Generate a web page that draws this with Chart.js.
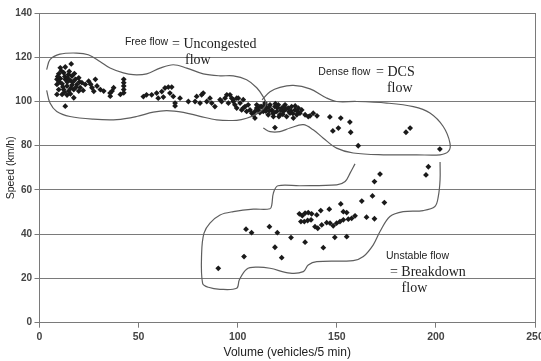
<!DOCTYPE html>
<html>
<head>
<meta charset="utf-8">
<script src="https://cdn.jsdelivr.net/npm/chart.js@4/dist/chart.umd.min.js"></script>
<style>
  html, body { margin: 0; padding: 0; background: #fff; }
  #box { width: 541px; height: 361px; }
</style>
</head>
<body>
<div id="box"><canvas id="speedChart"></canvas></div>
<script>
// axis ticks
const volumeTicks = [0, 50, 100, 150, 200, 250];
const speedTicks = [0, 20, 40, 60, 80, 100, 120, 140];

const freeFlowPoints = [
  [16.0, 117.0], [10.5, 115.2], [13.0, 115.6], [9.7, 112.5], [12.2, 113.0], [14.7, 112.2],
  [16.4, 111.5], [8.8, 110.0], [10.5, 110.4], [13.0, 110.0], [15.5, 109.5], [18.1, 110.0],
  [19.8, 110.7], [8.8, 107.7], [11.4, 108.0], [13.9, 107.0], [16.4, 107.4], [18.9, 107.7],
  [21.4, 108.5], [23.1, 107.7], [24.8, 109.2], [28.2, 110.0], [26.5, 106.2], [29.0, 107.0],
  [30.7, 105.4], [32.4, 104.7], [9.7, 105.4], [12.2, 105.4], [14.7, 104.7], [17.3, 105.4],
  [19.8, 104.7], [8.8, 103.2], [11.4, 103.2], [13.9, 102.9], [17.3, 101.7], [13.0, 97.9],
  [36.6, 104.7], [37.4, 106.2], [35.7, 102.4], [42.5, 110.0], [42.5, 108.5], [42.5, 107.0],
  [42.5, 105.4], [42.5, 103.9], [40.8, 103.2], [35.6, 103.8], [14.0, 108.8], [11.8, 106.6],
  [15.8, 106.0], [20.5, 106.3], [22.0, 105.0], [10.0, 108.9], [12.8, 111.3],
  [11.0, 113.8], [15.0, 113.6], [17.6, 112.6], [9.2, 111.3], [14.2, 110.6], [16.8, 108.8],
  [12.6, 104.2], [15.6, 103.4], [18.4, 106.4], [20.2, 108.9], [25.8, 107.8], [27.4, 104.6],
  [52.4, 102.2], [54.0, 103.0], [56.6, 103.0], [59.1, 103.8], [61.7, 104.5], [63.3, 106.1],
  [65.0, 106.5], [66.7, 106.5], [65.8, 103.8], [62.5, 102.0], [59.9, 101.5], [67.5, 102.3],
  [68.4, 99.3], [68.4, 98.0], [70.9, 101.5], [75.1, 100.0], [78.5, 100.0], [79.3, 102.3],
  [81.8, 103.0], [82.6, 103.8], [81.0, 99.3], [84.4, 100.0], [86.0, 101.5], [86.9, 99.3],
  [88.5, 97.7], [91.9, 100.0], [93.6, 101.5], [94.5, 103.0], [96.1, 103.0], [97.0, 101.5],
  [97.8, 100.0], [98.6, 98.5], [99.5, 97.0], [100.3, 101.5], [101.2, 99.3], [102.0, 96.2],
  [103.7, 97.7], [104.5, 95.5], [106.2, 96.2], [107.1, 94.7], [108.7, 95.5], [109.6, 97.0],
  [111.3, 97.7], [113.8, 98.5], [91.1, 100.8], [95.3, 99.3], [97.8, 100.8], [99.5, 101.5],
  [102.8, 100.8], [102.8, 97.0], [105.3, 98.5], [107.9, 94.0], [108.7, 92.5]
];

const denseFlowPoints = [
  [109.6, 98.5], [110.4, 96.2], [112.1, 97.7], [112.9, 95.5], [113.8, 99.3], [114.6, 97.0],
  [115.4, 94.0], [116.3, 98.5], [117.2, 96.2], [118.0, 93.2], [118.8, 97.7], [119.7, 95.5],
  [120.5, 98.5], [121.3, 94.0], [122.2, 97.0], [123.0, 95.5], [123.9, 98.5], [124.7, 93.2],
  [125.5, 97.0], [126.4, 94.7], [127.2, 97.7], [128.1, 92.5], [128.9, 96.2], [129.8, 94.0],
  [130.6, 97.0], [131.4, 94.7], [132.3, 96.2], [134.0, 94.0], [135.6, 93.2], [116.0, 95.8],
  [119.0, 99.0], [121.8, 96.0], [124.2, 96.4], [126.8, 95.8], [129.0, 98.0], [113.5, 96.5],
  [111.2, 95.0], [117.8, 94.6], [120.8, 93.2], [114.2, 95.6], [118.4, 95.0], [122.8, 94.2],
  [125.9, 95.4], [127.8, 94.6], [130.0, 95.6], [115.8, 97.6], [120.2, 97.2], [123.4, 97.8],
  [118.8, 88.2], [136.5, 93.5], [138.1, 94.7], [140.0, 93.5], [146.5, 93.0], [152.0, 92.5],
  [156.6, 90.7], [148.0, 86.7], [150.8, 88.0], [157.0, 86.1], [160.8, 80.0], [184.9, 86.1],
  [187.0, 88.0], [202.0, 78.5]
];

const unstableFlowPoints = [
  [90.2, 24.6], [103.2, 29.9], [104.2, 42.3], [107.0, 40.7], [116.0, 43.4], [120.0, 40.7],
  [118.8, 34.1], [122.2, 29.4], [126.9, 38.5], [134.0, 36.4], [143.2, 33.9], [149.0, 38.6],
  [155.0, 38.9], [131.1, 49.2], [132.6, 48.4], [134.0, 49.5], [135.6, 49.8], [137.3, 49.2],
  [131.9, 45.7], [133.6, 45.7], [135.3, 46.2], [137.0, 46.5], [139.9, 48.7], [141.9, 50.7],
  [146.2, 51.3], [139.0, 43.4], [140.4, 42.7], [142.4, 44.2], [144.9, 45.2], [146.6, 45.0],
  [148.2, 43.8], [149.9, 45.0], [151.6, 45.7], [153.3, 46.5], [155.8, 46.8], [157.5, 47.2],
  [159.2, 48.3], [152.0, 53.7], [153.3, 50.2], [155.0, 49.8], [162.6, 55.0], [168.0, 57.3],
  [174.0, 54.3], [165.0, 47.7], [169.0, 47.0], [169.0, 63.8], [171.8, 67.2], [196.2, 70.5],
  [195.0, 66.8]
];

// hand drawn regime outlines [volume, speed]
const freeFlowContour = [
  [3.6, 114.4], [5.3, 118.9], [10.3, 121.4], [18.8, 121.9], [24.6, 121.1], [30.5, 118.1],
  [35.6, 115.1], [42.3, 112.9], [47.3, 112.1], [54.1, 112.5], [60.8, 115.1], [67.5, 116.6],
  [74.3, 115.1], [82.6, 112.5], [91.1, 111.6], [97.8, 111.6], [104.5, 109.8], [109.6, 106.2],
  [112.9, 102.1], [114.3, 99.0], [112.9, 96.7], [109.6, 94.4], [104.5, 92.4], [99.5, 91.5],
  [89.4, 91.7], [81.0, 93.3], [72.6, 95.1], [64.2, 95.9], [57.4, 95.2], [49.0, 93.2],
  [39.0, 91.8], [27.1, 92.0], [15.4, 93.2], [8.7, 95.5], [5.3, 99.3], [3.6, 105.0]
];
const denseFlowContour = [
  [112.9, 88.0], [116.3, 86.4], [121.3, 86.4], [126.4, 88.0], [133.1, 89.5], [138.1, 87.2],
  [143.2, 83.4], [149.9, 78.9], [158.3, 76.7], [173.5, 75.9], [190.3, 75.9], [202.1, 75.9],
  [206.3, 77.4], [207.1, 81.2], [203.7, 88.7], [197.0, 94.8], [188.6, 97.7], [175.2, 99.3],
  [160.0, 100.0], [149.9, 100.0], [144.6, 101.7], [136.5, 105.7], [128.1, 107.3], [121.3, 106.4],
  [116.3, 104.4], [112.3, 100.8]
];
const unstableFlowContour = [
  [159.2, 71.8], [156.7, 67.6], [154.2, 63.8], [150.0, 62.3], [131.4, 61.9], [120.3, 61.9],
  [118.0, 58.6], [117.2, 53.3], [116.3, 51.5], [107.9, 51.3], [97.8, 50.2], [91.1, 48.7],
  [86.0, 45.0], [83.0, 40.5], [81.8, 31.4], [82.3, 17.8], [85.2, 16.0], [91.1, 15.1],
  [99.5, 15.6], [100.8, 19.3], [104.5, 24.2], [109.6, 25.1], [116.3, 24.6], [126.4, 22.4],
  [133.1, 23.1], [135.6, 26.1], [139.9, 27.6], [158.3, 28.1], [163.4, 29.9], [168.4, 35.2],
  [171.8, 41.2], [176.8, 48.0], [183.5, 50.2], [193.6, 50.7], [199.5, 52.5], [201.2, 57.0],
  [202.1, 64.6], [202.1, 72.7]
];

// regime labels
const regimeLabels = [
  "Free flow", "= Uncongested", "flow",
  "Dense flow", "= DCS", "flow",
  "Unstable flow", "= Breakdown", "flow"
];

const toXY = (arr) => arr.map((p) => ({ x: p[0], y: p[1] }));

// styles
const sans = "'Liberation Sans', Arial, sans-serif";
const serif = "'Liberation Serif', 'Times New Roman', serif";
const gridColor = "#7a7a7a";

// where each label piece sits (data units) and its font
const labelPlaces = [
  { x: 43.1, y: 126.7, font: "10.5px " + sans },
  { x: 66.9, y: 125.7, font: "14px " + serif },
  { x: 73.4, y: 118.4, font: "14px " + serif },
  { x: 140.7, y: 113.1, font: "10.5px " + sans },
  { x: 169.8, y: 113.3, font: "14px " + serif },
  { x: 175.3, y: 106.1, font: "14px " + serif },
  { x: 174.8, y: 30.2, font: "10.5px " + sans },
  { x: 176.8, y: 22.6, font: "14px " + serif },
  { x: 182.7, y: 15.6, font: "14px " + serif }
];

const regimeText = {
  id: "regimeText",
  afterDatasetsDraw(chart) {
    const { ctx, scales } = chart;
    ctx.save();
    ctx.fillStyle = "#222";
    ctx.textBaseline = "middle";
    ctx.textAlign = "left";
    regimeLabels.forEach((t, i) => {
      const p = labelPlaces[i];
      ctx.font = p.font;
      ctx.fillText(t, scales.x.getPixelForValue(p.x), scales.y.getPixelForValue(p.y));
    });
    ctx.restore();
  },
};

// right frame line
const frame = {
  id: "frame",
  afterDraw(chart) {
    const { ctx, chartArea } = chart;
    ctx.save();
    ctx.strokeStyle = gridColor;
    ctx.lineWidth = 1;
    ctx.beginPath();
    ctx.moveTo(Math.round(chartArea.right) + 0.5, chartArea.top);
    ctx.lineTo(Math.round(chartArea.right) + 0.5, chartArea.bottom);
    ctx.stroke();
    ctx.restore();
  },
};

const contourStyle = {
  showLine: true,
  borderColor: "#5e5e5e",
  borderWidth: 1.2,
  pointRadius: 0,
  tension: 0.35,
  fill: false,
};
const pointStyle = {
  pointStyle: "rectRot",
  pointRadius: 2.9,
  backgroundColor: "#1a1a1a",
  borderColor: "#1a1a1a",
  borderWidth: 0,
  showLine: false,
};

const ctx = document.getElementById("speedChart").getContext("2d");
const chart = new Chart(ctx, {
  type: "scatter",
  data: {
    datasets: [
      { data: toXY(freeFlowContour), ...contourStyle },
      { data: toXY(denseFlowContour), ...contourStyle },
      { data: toXY(unstableFlowContour), ...contourStyle },
      { data: toXY(freeFlowPoints), ...pointStyle },
      { data: toXY(denseFlowPoints), ...pointStyle },
      { data: toXY(unstableFlowPoints), ...pointStyle },
    ],
  },
  options: {
    responsive: true,
    maintainAspectRatio: false,
    animation: false,
    layout: { autoPadding: false, padding: { top: 13, right: 6, left: 0, bottom: 0 } },
    plugins: { legend: { display: false }, tooltip: { enabled: false } },
    scales: {
      x: {
        type: "linear",
        min: 0,
        max: 250,
        afterBuildTicks: (s) => { s.ticks = volumeTicks.map((v) => ({ value: v })); },
        afterFit: (s) => {
          s.height = 38.3;
          s.paddingLeft = 0;
          s.paddingRight = 0;
        },
        grid: { drawOnChartArea: false, drawTicks: true, tickLength: 5, color: gridColor },
        border: { display: true, color: gridColor },
        ticks: {
          padding: 3.5,
          color: "#444",
          font: { family: sans, size: 10.5, weight: "bold" },
          maxRotation: 0,
        },
        title: {
          display: true,
          text: "Volume (vehicles/5 min)",
          color: "#222",
          font: { family: sans, size: 12 },
          padding: { top: 0, bottom: 1.3 },
        },
      },
      y: {
        type: "linear",
        min: 0,
        max: 140,
        afterBuildTicks: (s) => { s.ticks = speedTicks.map((v) => ({ value: v })); },
        afterFit: (s) => {
          s.width = 39.5;
          s.paddingTop = 0;
          s.paddingBottom = 0;
        },
        grid: { drawTicks: true, tickLength: 5, color: gridColor },
        border: { display: true, color: gridColor },
        ticks: {
          padding: 2.5,
          color: "#444",
          font: { family: sans, size: 10, weight: "bold" },
        },
        title: {
          display: true,
          text: "Speed (km/h)",
          color: "#222",
          font: { family: sans, size: 10.5 },
          padding: { top: 4.7, bottom: 0 },
        },
      },
    },
  },
  plugins: [regimeText, frame],
});
</script>
</body>
</html>
